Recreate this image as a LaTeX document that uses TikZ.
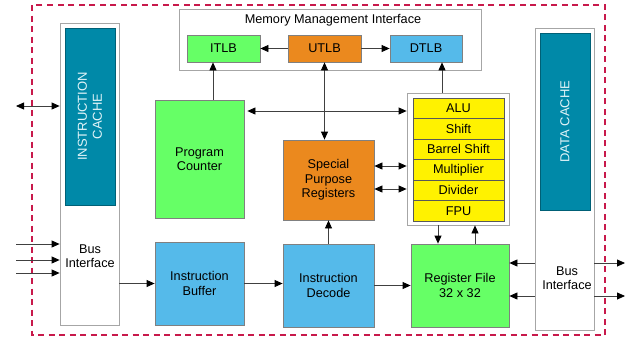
\documentclass[tikz,border=0pt]{standalone}
\usepackage{fontspec}
\setmainfont{Liberation Sans}
\usetikzlibrary{arrows.meta}
\definecolor{cpugreen}{RGB}{102,255,102}
\definecolor{cpuorange}{RGB}{235,137,30}
\definecolor{cpublue}{RGB}{85,186,234}
\definecolor{cputeal}{RGB}{0,137,168}
\definecolor{cacheink}{RGB}{225,244,248}
\definecolor{bordred}{RGB}{200,25,75}
\begin{document}
\begin{tikzpicture}[x=1pt,y=-1pt,
    font=\fontsize{12.7}{14.5}\selectfont,
    blk/.style={draw=gray, line width=0.8pt, align=center, inner sep=0pt},
    frame/.style={draw=gray!70, line width=0.8pt, fill=white, inner sep=0pt},
    cache/.style={draw=cputeal!70!black, fill=cputeal, text=cacheink, rotate=90, align=center,
        minimum width=177pt, minimum height=50pt, inner sep=0pt, font=\fontsize{13}{15}\selectfont},
    arr/.style={draw=black!75, line width=0.8pt, -{Triangle[length=8pt,width=7pt,color=black]}},
    darr/.style={arr, {Triangle[length=8pt,width=7pt,color=black]}-{Triangle[length=8pt,width=7pt,color=black]}}]
    \useasboundingbox (0,0) rectangle (627,338);
    % dashed core border
    \draw[bordred, line width=1.6pt, dash pattern=on 6pt off 4.5pt] (32,5) rectangle (605,335);

    % caches with their bus interfaces
    \node[frame, minimum width=59pt, minimum height=302pt] (icache) at (89.5,174) {};
    \node[cache] (icachein) at (90,116.5) {INSTRUCTION\\CACHE};
    \node[align=center] (ibus) at (90,256) {Bus\\Interface};
    \node[frame, minimum width=59pt, minimum height=302pt] (dcache) at (564.5,179) {};
    \node[cache] (dcachein) at (565,121.5) {DATA CACHE};
    \node[align=center] (dbus) at (567,278) {Bus\\Interface};

    % memory management
    \node[frame, minimum width=302pt, minimum height=61pt] (mmi) at (330,39.5) {};
    \node (mmititle) at (333,20) {Memory Management Interface};
    \node[blk, fill=cpugreen, minimum width=73pt, minimum height=27pt] (itlb) at (223.5,48.5) {ITLB};
    \node[blk, fill=cpuorange, minimum width=73pt, minimum height=27pt] (utlb) at (324.5,48.5) {UTLB};
    \node[blk, fill=cpublue, minimum width=72pt, minimum height=27pt] (dtlb) at (426,48.5) {DTLB};

    % core blocks
    \node[blk, fill=cpugreen, minimum width=89pt, minimum height=118pt] (pc) at (199.5,159) {Program\\Counter};
    \node[blk, fill=cpuorange, minimum width=91pt, minimum height=80pt] (spr) at (328.5,180) {Special\\Purpose\\Registers};
    \node[frame, minimum width=102pt, minimum height=132pt] (alu) at (458,159) {};
    \foreach \lbl [count=\i from 0] in {ALU, Shift, Barrel Shift, Multiplier, Divider, FPU}
        \node[blk, draw=gray!70!black, fill=yellow, minimum width=91pt, minimum height=20.5pt] (row\i) at (458.5,108.25+20.5*\i) {\lbl};
    \node[blk, fill=cpublue, minimum width=89pt, minimum height=83pt] (ibuf) at (199.5,283.5) {Instruction\\Buffer};
    \node[blk, fill=cpublue, minimum width=91pt, minimum height=83pt] (idec) at (328.5,285.5) {Instruction\\Decode};
    \node[blk, fill=cpugreen, minimum width=98pt, minimum height=83pt] (rf) at (460,285.5) {Register File\\32 x 32};

    % outside connections
    \coordinate (ext0) at (16,106);
    \coordinate (in1) at (16,244);
    \coordinate (in2) at (16,260);
    \coordinate (in3) at (16,273);
    \coordinate (out1) at (625,263);
    \coordinate (out2) at (625,296);
    \draw[darr] (ext0) -- (ext0 -| icache.west);
    \foreach \p in {in1, in2, in3}
        \draw[arr] (\p) -- (\p -| icache.west);
    \foreach \p in {out1, out2} {
        \draw[arr] (\p -| dcache.east) -- (\p);
        \draw[arr] (\p -| dcache.west) -- (\p -| rf.east);
    }

    % internal connections
    \draw[arr] (utlb) -- (itlb);
    \draw[arr] (utlb) -- (dtlb);
    \draw[arr] ([xshift=13.5pt]pc.north) -- ([xshift=-10.5pt]itlb.south);
    \draw[darr] (utlb.south) -- ([xshift=-4pt]spr.north);
    \draw[arr] ([xshift=-16pt]alu.north) -- ([xshift=16pt]dtlb.south);
    \draw[darr, shorten <=3pt] ([yshift=48pt]pc.east) -- ([yshift=48pt]alu.west);
    \draw[darr] ([yshift=14pt]spr.east) -- ([yshift=-7pt]alu.west);
    \draw[darr] ([yshift=-9pt]spr.east) -- ([yshift=-30pt]alu.west);
    \draw[arr] (ibuf.west -| icache.east) -- (ibuf.west);
    \draw[arr] (ibuf.east) -- (ibuf.east -| idec.west);
    \draw[arr] (idec.east) -- (idec.east -| rf.west);
    \draw[arr] (idec.north) -- (spr.south);
    \draw[arr] ([xshift=-20pt]alu.south) -- ([xshift=-22pt]rf.north);
    \draw[arr] ([xshift=15pt]rf.north) -- ([xshift=17pt]alu.south);
\end{tikzpicture}
\end{document}
